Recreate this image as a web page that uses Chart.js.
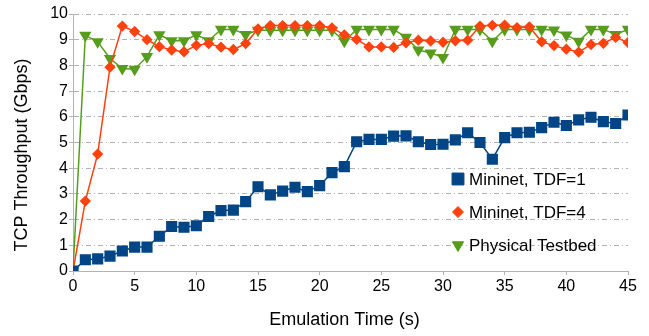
<!DOCTYPE html>
<html>
<head>
<meta charset="utf-8">
<script src="https://cdn.jsdelivr.net/npm/chart.js@4/dist/chart.umd.min.js"></script>
<style>
    html, body { margin: 0; padding: 0; background: #fff; }
    #wrap { width: 649px; height: 336px; position: relative; }
</style>
</head>
<body>
<div id="wrap"><canvas id="chart"></canvas></div>
<script>
// ------------------------------------------
// Dados
// ------------------------------------------
const times = [0, 1, 2, 3, 4, 5, 6, 7, 8, 9, 10, 11, 12, 13, 14, 15, 16, 17, 18, 19, 20, 21, 22,
               23, 24, 25, 26, 27, 28, 29, 30, 31, 32, 33, 34, 35, 36, 37, 38, 39, 40, 41, 42, 43, 44, 45];

const mininetTdf1 = [0, 0.44, 0.47, 0.58, 0.78, 0.93, 0.93, 1.35, 1.73, 1.7, 1.76, 2.12, 2.35, 2.37, 2.7, 3.28,
                     2.96, 3.11, 3.26, 3.09, 3.32, 3.83, 4.06, 5.03, 5.12, 5.12, 5.25, 5.26, 5.03, 4.92, 4.93,
                     5.1, 5.38, 5.0, 4.35, 5.19, 5.38, 5.4, 5.58, 5.79, 5.66, 5.88, 5.98, 5.81, 5.74, 6.07];

const mininetTdf4 = [0, 2.72, 4.55, 7.93, 9.53, 9.32, 9.0, 8.73, 8.6, 8.53, 8.78, 8.85, 8.71, 8.62, 8.85, 9.42,
                     9.55, 9.55, 9.55, 9.55, 9.55, 9.46, 9.19, 9.01, 8.72, 8.72, 8.7, 8.88, 8.98, 8.95, 8.9,
                     8.96, 8.98, 9.53, 9.56, 9.57, 9.47, 9.5, 8.92, 8.77, 8.63, 8.52, 8.81, 8.86, 9.09, 8.89];

const physical = [0, 9.17, 8.92, 8.27, 7.88, 7.85, 8.34, 9.19, 8.96, 8.96, 9.19, 8.96, 9.4, 9.4, 9.2, 9.37,
                  9.37, 9.37, 9.37, 9.37, 9.37, 9.37, 8.94, 9.4, 9.4, 9.4, 9.4, 9.09, 8.6, 8.48, 8.31,
                  9.4, 9.4, 9.4, 8.94, 9.4, 9.4, 9.4, 9.4, 9.38, 9.18, 8.94, 9.4, 9.4, 9.2, 9.4];

const seriesNames = ['Mininet, TDF=1', 'Mininet, TDF=4', 'Physical Testbed'];
const yTicks = [0, 1, 2, 3, 4, 5, 6, 7, 8, 9, 10];
const xTicks = [0, 5, 10, 15, 20, 25, 30, 35, 40, 45];
const yTitle = 'TCP Throughput (Gbps)';
const xTitle = 'Emulation Time (s)';

const FONT = 'Liberation Sans, Arial, sans-serif';
const GRID = '#b3b3b3';
const colors = ['#004586', '#ff420e', '#579d1c'];

const toPoints = vals => vals.map((v, i) => ({ x: times[i], y: v }));

// ------------------------------------------
// Legenda dentro da área do gráfico + títulos dos eixos
// ------------------------------------------
const innerLegend = {
    id: 'innerLegend',
    afterDatasetsDraw(chart) {
        const { ctx, chartArea } = chart;
        const x0 = chartArea.right - 170;
        const y0 = chartArea.top + 165;
        const gap = 33;

        ctx.save();
        chart.data.datasets.forEach((ds, i) => {
            const y = y0 + i * gap;
            ctx.fillStyle = ds.pointBackgroundColor;
            ctx.strokeStyle = ds.pointBackgroundColor;
            ctx.lineWidth = 1;
            Chart.helpers.drawPoint(ctx, {
                pointStyle: ds.pointStyle,
                rotation: ds.pointRotation || 0,
                radius: ds.legendRadius,
                borderWidth: 1
            }, x0, y);
            ctx.fillStyle = '#000';
            ctx.font = '17px ' + FONT;
            ctx.textBaseline = 'middle';
            ctx.textAlign = 'left';
            ctx.fillText(ds.label, x0 + 11, y + 1);
        });
        ctx.restore();

        // títulos dos eixos, levemente deslocados como no original
        ctx.save();
        ctx.fillStyle = '#000';
        ctx.font = '18px ' + FONT;
        ctx.textAlign = 'center';
        ctx.textBaseline = 'middle';
        ctx.fillText(xTitle, (chartArea.left + chartArea.right) / 2 - 6, chartArea.bottom + 49);
        ctx.translate(22, chartArea.top + 141);
        ctx.rotate(-Math.PI / 2);
        ctx.fillText(yTitle, 0, 0);
        ctx.restore();
    }
};

new Chart(document.getElementById('chart'), {
    type: 'line',
    data: {
        datasets: [
            {
                label: seriesNames[0],
                data: toPoints(mininetTdf1),
                borderColor: colors[0],
                backgroundColor: colors[0],
                pointBackgroundColor: colors[0],
                pointBorderColor: colors[0],
                pointStyle: 'rect',
                pointRadius: 6.8,
                legendRadius: 8.4,
                borderWidth: 1.5
            },
            {
                label: seriesNames[1],
                data: toPoints(mininetTdf4),
                borderColor: colors[1],
                backgroundColor: colors[1],
                pointBackgroundColor: colors[1],
                pointBorderColor: colors[1],
                pointStyle: 'rectRot',
                pointRadius: 4.6,
                legendRadius: 5.5,
                borderWidth: 1.5
            },
            {
                label: seriesNames[2],
                data: toPoints(physical),
                borderColor: colors[2],
                backgroundColor: colors[2],
                pointBackgroundColor: colors[2],
                pointBorderColor: colors[2],
                pointStyle: 'triangle',
                pointRotation: 180,
                pointRadius: 5.6,
                legendRadius: 6.5,
                borderWidth: 1.5
            }
        ]
    },
    options: {
        responsive: true,
        maintainAspectRatio: false,
        animation: false,
        events: [],
        layout: { padding: { top: 14, right: 21, left: 0, bottom: 0 } },
        elements: {
            line: { tension: 0, fill: false },
            point: { borderWidth: 1, hoverRadius: 0 }
        },
        plugins: {
            legend: { display: false },
            tooltip: { enabled: false }
        },
        scales: {
            x: {
                type: 'linear',
                min: 0,
                max: 45,
                afterFit: s => { s.height = 65; },
                afterBuildTicks: s => { s.ticks = xTicks.map(v => ({ value: v })); },
                grid: {
                    drawOnChartArea: false,
                    drawTicks: true,
                    tickLength: 4,
                    color: GRID
                },
                border: { display: true, color: GRID, width: 1 },
                ticks: {
                    color: '#000',
                    padding: 2,
                    maxRotation: 0,
                    font: { family: FONT, size: 16 }
                },
                title: { display: false }
            },
            y: {
                min: 0,
                max: 10,
                afterFit: s => { s.width = 73; },
                afterBuildTicks: s => { s.ticks = yTicks.map(v => ({ value: v })); },
                grid: {
                    drawTicks: true,
                    tickLength: 4,
                    color: GRID,
                    tickColor: GRID
                },
                border: { display: true, color: GRID, width: 1, dash: [5, 3, 1, 3] },
                ticks: {
                    color: '#000',
                    padding: 1,
                    font: { family: FONT, size: 16 }
                },
                title: { display: false }
            }
        }
    },
    plugins: [innerLegend]
});
</script>
</body>
</html>
